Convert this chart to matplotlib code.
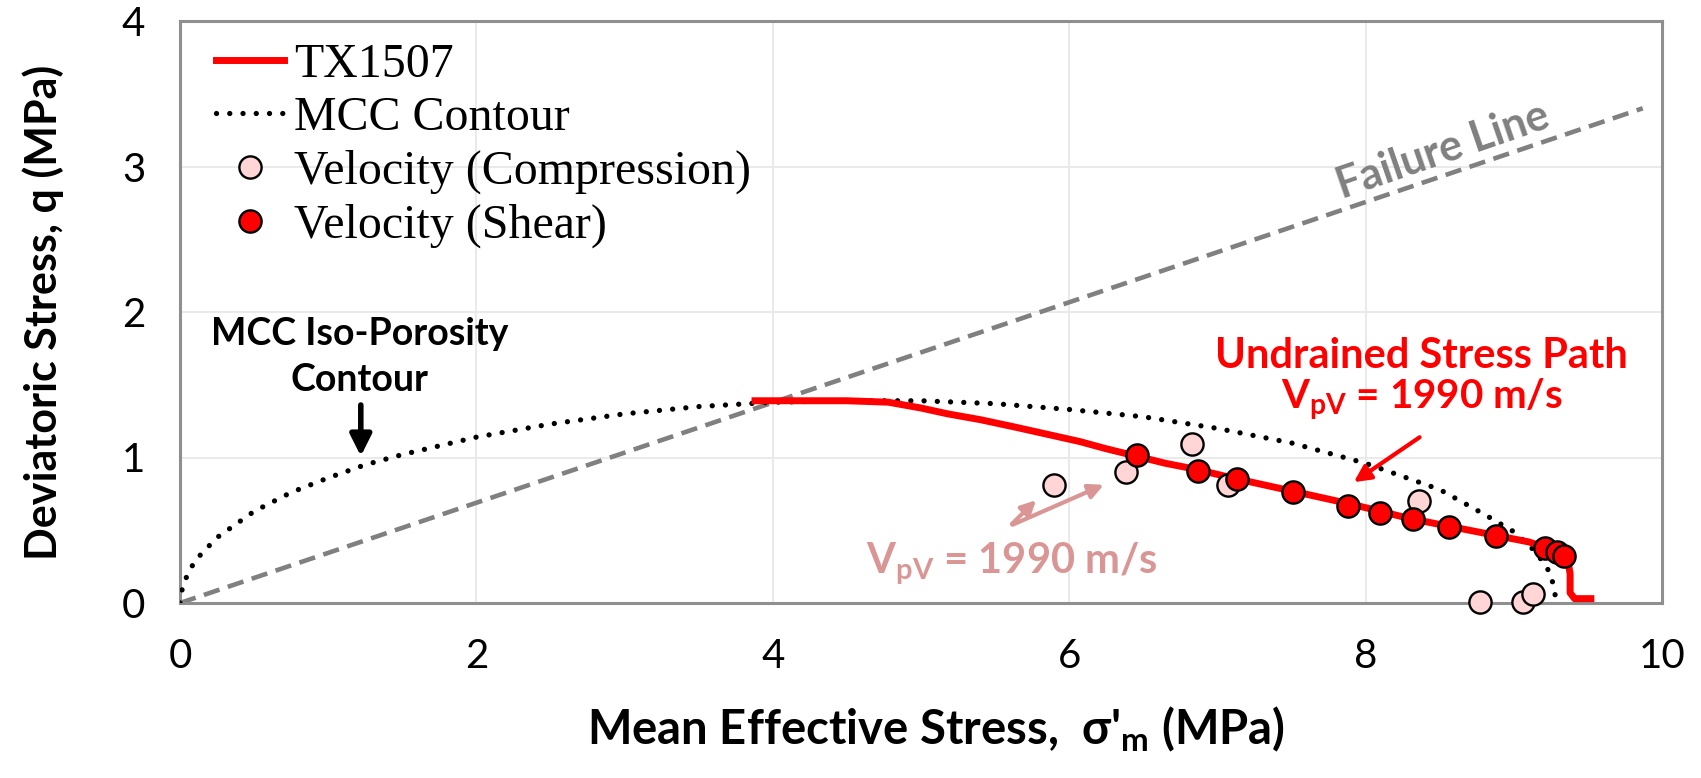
import matplotlib
matplotlib.use('Agg')
import matplotlib.pyplot as plt

plt.rcParams['font.family'] = ['Lato', 'DejaVu Sans']
plt.rcParams['mathtext.default'] = 'regular'

# undrained stress path (TX1507)
path_p = [3.88, 4.20, 4.50, 4.78, 5.00, 5.18, 5.40, 5.63, 5.85, 6.07, 6.25, 6.45, 6.65, 6.85,
          7.10, 7.50, 7.90, 8.30, 8.60, 8.90, 9.10, 9.22, 9.30, 9.36, 9.38, 9.38, 9.41, 9.52]
path_q = [1.39, 1.39, 1.39, 1.38, 1.34, 1.30, 1.26, 1.21, 1.16, 1.11, 1.06, 1.01, 0.96, 0.92,
          0.86, 0.77, 0.68, 0.58, 0.52, 0.46, 0.42, 0.38, 0.35, 0.32, 0.20, 0.07, 0.03, 0.03]

# MCC contour
mcc_p = [0.0, 0.02, 0.10, 0.25, 0.50, 0.75, 1.00, 1.25, 1.50, 2.00, 2.50, 3.00, 3.50, 4.00,
         4.50, 5.00, 5.50, 6.00, 6.50, 7.00, 7.50, 8.00, 8.50, 8.80, 9.00, 9.15, 9.25, 9.29]
mcc_q = [0.0, 0.13, 0.29, 0.45, 0.63, 0.76, 0.86, 0.95, 1.02, 1.14, 1.23, 1.30, 1.35, 1.38,
         1.39, 1.39, 1.37, 1.33, 1.28, 1.20, 1.10, 0.96, 0.78, 0.61, 0.49, 0.35, 0.20, 0.0]

# failure line
fail_p = [0.0, 9.87]
fail_q = [0.0, 3.40]

# velocity measurements
comp_p = [5.90, 6.38, 6.83, 7.07, 8.36, 8.77, 9.06, 9.13]
comp_q = [0.81, 0.90, 1.09, 0.81, 0.70, 0.01, 0.01, 0.06]
shear_p = [6.46, 6.87, 7.13, 7.51, 7.88, 8.10, 8.32, 8.56, 8.88, 9.21, 9.29, 9.34]
shear_q = [1.02, 0.91, 0.85, 0.76, 0.67, 0.62, 0.575, 0.52, 0.46, 0.38, 0.35, 0.32]

x_ticks = [0, 2, 4, 6, 8, 10]
y_ticks = [0, 1, 2, 3, 4]

pink = '#D99694'

fig = plt.figure(figsize=(17.01, 7.78), dpi=100)
ax = fig.add_axes([180 / 1701, 175 / 778, 1482 / 1701, 582 / 778])

ax.set_xlim(0, 10)
ax.set_ylim(0, 4)
ax.set_xticks(x_ticks)
ax.set_yticks(y_ticks)
ax.grid(color='#e8e8e8', lw=1.3)
ax.set_axisbelow(True)
for s in ax.spines.values():
    s.set_color('#8f8f8f')
    s.set_linewidth(2.2)
ax.tick_params(length=0, labelsize=29, colors='black')
ax.tick_params(axis='x', pad=25)
ax.tick_params(axis='y', pad=25)

ax.plot(fail_p, fail_q, color='#808080', lw=3.3, ls=(0, (3.6, 1.9)), zorder=2)
mcc, = ax.plot(mcc_p, mcc_q, color='black', lw=3.8, ls=(0, (0.01, 2.5)),
               dash_capstyle='round', zorder=3, label='MCC Contour')
tx, = ax.plot(path_p, path_q, color='red', lw=5, zorder=4, label='TX1507')
comp, = ax.plot(comp_p, comp_q, 'o', ms=16, mfc='#FFD5D5', mec='black', mew=1.7,
                zorder=5, clip_on=False, label='Velocity (Compression)')
shear, = ax.plot(shear_p, shear_q, 'o', ms=16, mfc='red', mec='black', mew=1.7,
                 zorder=6, clip_on=False, label='Velocity (Shear)')

ax.legend(handles=[tx, mcc, comp, shear], loc='upper left', bbox_to_anchor=(0.01, 1.0),
          frameon=False, prop={'family': 'Liberation Serif', 'size': 34.5},
          handlelength=1.42, handletextpad=0.2, labelspacing=0.2, borderaxespad=0.05)

ax.text(8.52, 3.11, 'Failure Line', rotation=19, color='#808080', fontweight='bold',
        fontsize=31, ha='center', va='center', rotation_mode='anchor')

ax.text(1.21, 1.85, 'MCC Iso-Porosity', ha='center', va='center', fontweight='bold', fontsize=27)
ax.text(1.21, 1.53, 'Contour', ha='center', va='center', fontweight='bold', fontsize=27)
ax.annotate('', xy=(1.22, 0.99), xytext=(1.22, 1.38),
            arrowprops=dict(arrowstyle='-|>', color='black', lw=4, mutation_scale=32))

ax.text(8.38, 1.70, 'Undrained Stress Path', ha='center', va='center', color='red',
        fontweight='bold', fontsize=30)
ax.text(8.38, 1.40, 'V$_{pV}$ = 1990 m/s', ha='center', va='center', color='red',
        fontweight='bold', fontsize=29)
ax.annotate('', xy=(7.905, 0.82), xytext=(8.38, 1.15),
            arrowprops=dict(arrowstyle='-|>', color='red', lw=3, mutation_scale=25))

ax.text(5.61, 0.27, 'V$_{pV}$ = 1990 m/s', ha='center', va='center', color=pink,
        fontweight='bold', fontsize=30)
ax.annotate('', xy=(5.79, 0.72), xytext=(5.60, 0.53),
            arrowprops=dict(arrowstyle='-|>', color=pink, lw=3, mutation_scale=22))
ax.annotate('', xy=(6.25, 0.82), xytext=(5.60, 0.53),
            arrowprops=dict(arrowstyle='-|>', color=pink, lw=3, mutation_scale=22))

ax.set_xlabel("Mean Effective Stress,  σ'$_m$ (MPa)", fontweight='bold', fontsize=34)
ax.set_ylabel('Deviatoric Stress, q (MPa)', fontweight='bold', fontsize=31)
ax.xaxis.set_label_coords(0.51, -0.2165)
ax.xaxis.label.set_va('center')
ax.yaxis.set_label_coords(-0.0924, 0.5)
ax.yaxis.label.set_va('center')

fig.savefig('out.png', dpi=100)
